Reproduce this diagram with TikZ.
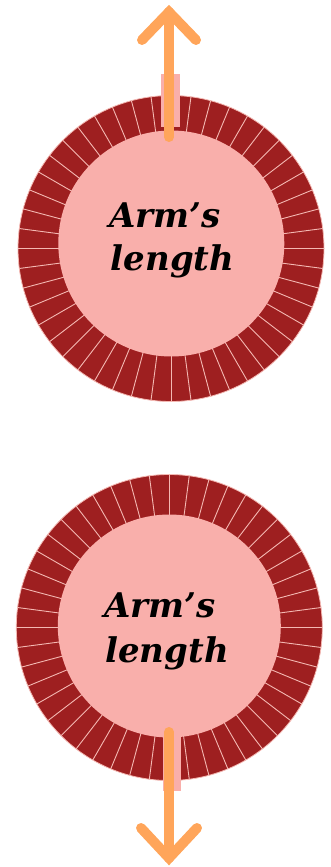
\documentclass[tikz,border=0pt]{standalone}
\usepackage{fontspec}
\newfontfamily\armfont{DejaVu Serif}
\definecolor{ringred}{HTML}{9E1F20}
\definecolor{innerpink}{HTML}{F9AFAB}
\definecolor{divpink}{HTML}{F4B8B2}
\definecolor{arrowor}{HTML}{FFA55A}
\tikzset{
  ringdisc/.style={fill=ringred, draw=divpink, line width=0.8pt},
  divider/.style={draw=divpink, line width=0.9pt},
  innerdisc/.style={fill=innerpink},
  tabrect/.style={fill=innerpink},
  armline/.style={draw=arrowor, line width=10pt, line cap=round, line join=miter},
  armtext/.style={font=\armfont\bfseries\itshape\fontsize{34}{43}\selectfont, text=black, anchor=base, inner sep=0pt}
}
\begin{document}
\begin{tikzpicture}[x=1pt,y=-1pt]
\useasboundingbox (0,0) rectangle (330,867);
% ---------- top dial ----------
\coordinate (c1) at (171,248.5);
\fill[ringdisc] (c1) circle (153);
\foreach \a in {0,7.5,...,359} {
  \draw[divider] (c1) -- ++(\a:153);
}
\fill[innerdisc] (171.3,243.5) circle (113);
\fill[tabrect] (161,74) rectangle (180,127);
\node[armtext] (t1) at (165,227) {Arm’s};
\node[armtext] (t2) at (172.5,270) {length};
\coordinate (a1s) at (169,137);
\coordinate (a1t) at (169,12);
\coordinate (a1l) at (142,40);
\coordinate (a1r) at (196,40);
\draw[armline] (a1s) -- (a1t);
\draw[armline] (a1l) -- (a1t) -- (a1r);
% ---------- bottom dial ----------
\coordinate (c2) at (169.3,627.5);
\fill[ringdisc] (c2) circle (153);
\foreach \a in {0,7.5,...,359} {
  \draw[divider] (c2) -- ++(\a:153);
}
\fill[innerdisc] (169.3,626) circle (111.5);
\fill[tabrect] (162.7,730) rectangle (180.7,790.7);
\node[armtext] (b1) at (160,617) {Arm’s};
\node[armtext] (b2) at (167,662) {length};
\coordinate (a2s) at (169,732);
\coordinate (a2t) at (169,858);
\coordinate (a2l) at (141,828);
\coordinate (a2r) at (197,828);
\draw[armline] (a2s) -- (a2t);
\draw[armline] (a2l) -- (a2t) -- (a2r);
\end{tikzpicture}
\end{document}
